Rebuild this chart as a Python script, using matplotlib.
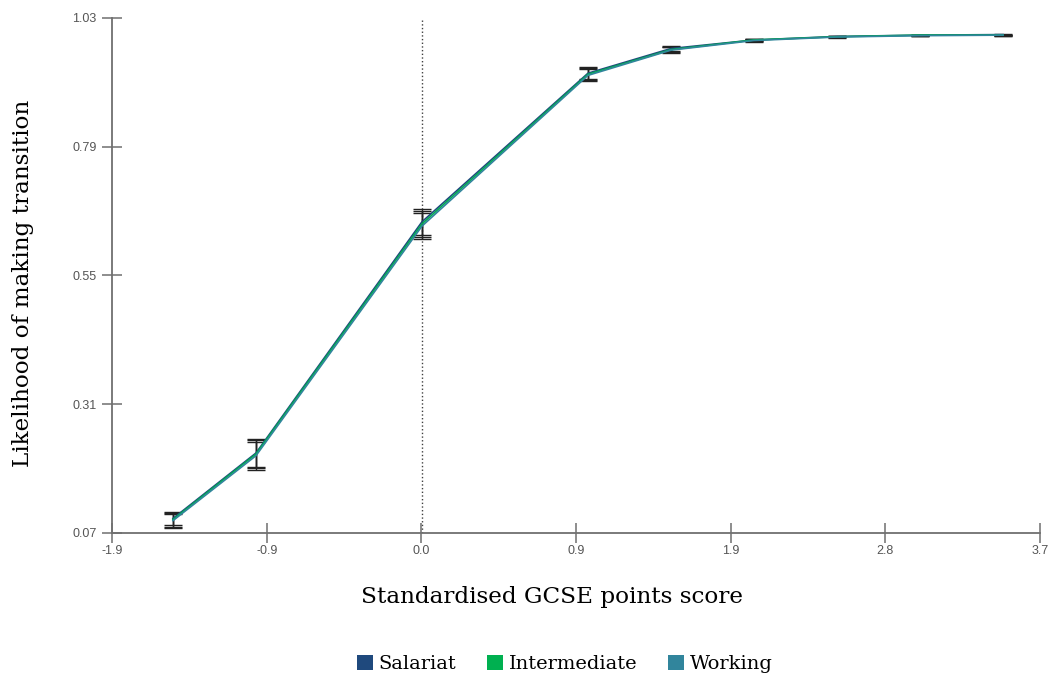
import numpy as np
import matplotlib.pyplot as plt
from matplotlib.patches import Patch

# GCSE score points and predicted likelihood by class
gcse = [-1.5, -1.0, 0.0, 1.0, 1.5, 2.0, 2.5, 3.0, 3.5]
salariat = [0.097, 0.219, 0.650, 0.927, 0.973, 0.989, 0.9955, 0.998, 0.999]
intermediate = [0.095, 0.217, 0.646, 0.925, 0.971, 0.989, 0.995, 0.998, 0.998]
working = [0.093, 0.214, 0.642, 0.923, 0.970, 0.988, 0.9945, 0.997, 0.998]
err = [0.013, 0.026, 0.024, 0.011, 0.005, 0.002, 0.001, 0.001, 0.001]

series = ['Salariat', 'Intermediate', 'Working']
colors = ['#1F497D', '#00B050', '#31859C']

xticklabels = ['-1.9', '-0.9', '0.0', '0.9', '1.9', '2.8', '3.7']
yticks = [0.07, 0.31, 0.55, 0.79, 1.03]

fig = plt.figure(figsize=(10.5, 6.78), dpi=100)
ax = fig.add_axes([0.1067, 0.2139, 0.8838, 0.7596])

for vals, name, c in zip([salariat, intermediate, working], series, colors):
    ax.errorbar(gcse, vals, yerr=err, color=c, lw=1.2, ecolor='#222222',
                elinewidth=1.0, capsize=6.5, capthick=1.0, zorder=3)

ax.axvline(0, color='#404040', linestyle=':', lw=1.0, zorder=1)

ax.set_xlim(-1.867, 3.723)
ax.set_ylim(0.07, 1.03)
ax.set_xticks(np.linspace(-1.867, 3.723, 7))
ax.set_xticklabels(xticklabels)
ax.set_yticks(yticks)
ax.set_yticklabels(['%.2f' % v for v in yticks])

for s in ['top', 'right']:
    ax.spines[s].set_visible(False)
for s in ['left', 'bottom']:
    ax.spines[s].set_color('#6f6f6f')
    ax.spines[s].set_linewidth(1.3)
ax.tick_params(axis='both', direction='inout', length=15, width=1.1,
               color='#6f6f6f', labelsize=9, labelcolor='#555555',
               labelfontfamily='Liberation Sans')
ax.tick_params(axis='x', pad=1)

ax.set_xlabel('Standardised GCSE points score', fontsize=16.7,
              fontfamily='DejaVu Serif')
ax.xaxis.set_label_coords(0.474, -0.102)
ax.set_ylabel('Likelihood of making transition', fontsize=16.7,
              fontfamily='DejaVu Serif')
ax.yaxis.set_label_coords(-0.084, 0.485)

handles = [Patch(facecolor=c, edgecolor='none') for c in colors]
fig.legend(handles, series, loc='center', bbox_to_anchor=(0.538, 0.021),
           ncol=3, frameon=False, handlelength=0.8, handleheight=0.8,
           handletextpad=0.3, columnspacing=1.6,
           prop={'family': 'DejaVu Serif', 'size': 14})

fig.savefig('out.png', dpi=100)
